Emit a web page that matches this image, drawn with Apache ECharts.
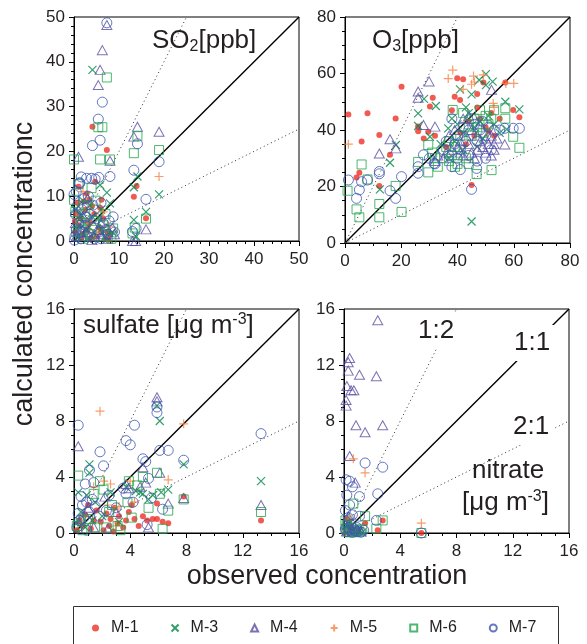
<!DOCTYPE html>
<html><head><meta charset="utf-8">
<script src="https://cdn.jsdelivr.net/npm/echarts@6/dist/echarts.min.js"></script>
<style>html,body{margin:0;padding:0;background:#fff}#c{width:587px;height:644px}</style>
</head><body><div id="c"></div>
<script>
// ---------- data ----------
const SERIES_NAMES = ['M-1','M-3','M-4','M-5','M-6','M-7'];
const PANEL_MAX = [50, 80, 16, 16];
const PANEL_INTERVAL = [10, 20, 4, 4];
const PANEL_MINOR = [5, 4, 4, 4];

// SO2 [ppb]
const SO2_M1 = [[4.1,25.5],[7.3,20.3],[13.9,12.3],[13.3,9.9],[16,5.1],[1,12.1],[4.7,13.2],[2.8,10.6],[3.4,9.2],[6.1,9.2],[0.5,6],[1.5,5],[2.5,7],[3.5,4],[4.5,6],[5.5,3],[6.5,5],[7.5,2],[0.3,2],[1,3.5],[2,1.5],[3,2.5],[5,1],[6,2],[7,0.5],[8,1.5],[0.8,8.5],[2.2,8.8],[4,7.8],[7.6,0.3],[1.7,0.8],[3.8,0.6],[5.8,7.4],[0.2,4.4]];
const SO2_M3 = [[4.1,38.2],[14.1,14.4],[13.3,12],[7.3,10.8],[18.9,10.4],[16,6.5],[13.3,4.7],[5.8,12.5],[8,8.4],[0.5,3],[1.5,6],[2.5,4],[3.5,8],[4.5,2],[5.5,5],[6.5,3],[1,1],[2,9],[3,0.5],[7,1],[0.2,7],[4,5.5],[6,7],[2.8,2.5],[8.5,2],[13.8,1],[1.2,4.8]];
const SO2_M4 = [[7.3,48.2],[6.3,42.6],[5.8,38.2],[5.4,34.8],[14.1,25.5],[13.3,23.3],[18.9,24.4],[8,17.9],[1,18.8],[16,2.6],[13,0],[13.7,0],[0.5,1],[1.5,3],[2.5,2],[3.5,5],[4.5,1],[5.5,2.5],[6.5,1.5],[7.5,0.5],[8.5,3],[1,7],[2,5.5],[3,9.5],[0.3,4],[4,0.2],[6,4],[9,1.5]];
const SO2_M5 = [[18.9,14.4],[1.5,1.5],[3,4],[5,2],[6.5,6.5],[2,11],[0.5,5],[7.8,3.3]];
const SO2_M6 = [[7.3,36.5],[5.4,25.4],[6.3,25.4],[14.1,23.4],[13.3,19.6],[18.9,20.3],[5.8,18.2],[8,18.2],[0,18.2],[0,9.2],[3.9,11.8],[13,1.7],[8.7,2.8],[1,12.7],[0.5,2],[1.5,4],[2.5,6],[3.5,1.5],[4.5,4.5],[5.5,1],[6.5,3.5],[7.5,1],[2,0.5],[3,8],[4.8,9],[0.3,6.5],[7,6],[8.3,0.5],[1.8,2.5],[13.5,3],[16,5]];
const SO2_M7 = [[7.3,48.7],[6.3,31],[5.4,27.2],[5.8,22.5],[4.1,21.3],[14.1,21.7],[18.9,17.7],[13.3,15.8],[8,14.4],[16,9.3],[1.2,13],[1.6,14.3],[2.8,14],[3.9,14],[4.7,13.8],[5.5,14.2],[0,10.4],[8.7,5.4],[13,2.1],[1.3,12.9],[0.2,1],[0.5,2.5],[1,4],[1.5,0.5],[2,2],[2.5,3.5],[3,1],[3.5,6],[4,3],[4.5,0.5],[5,5],[5.5,2],[6,0.5],[6.5,4],[7,2.5],[7.5,1.5],[0.3,6],[0.8,8],[1.8,7],[2.3,9.5],[0.5,11],[3.2,10],[6,8.5],[7.8,4.5],[9,2],[0.1,0.2],[1.2,1.8],[2.7,5.3],[4.2,8],[13.8,2.8]];

// O3 [ppb]
const O3_M1 = [[1.2,45.5],[8,45.9],[18,44.1],[20.1,55.3],[5.9,35.9],[4.1,23.2],[5.1,24.9],[12.2,38.2],[16,31.2],[12.2,20.2],[26,41.2],[26,39.6],[31.2,51.4],[30.2,48.3],[29.6,39.4],[39.9,58.3],[42,58],[39,51.8],[40.9,50.6],[47,52.7],[49.2,56.8],[57,56.8],[59.8,47.1],[62,44.5],[45,20.5],[38,47],[41,39],[44,43],[46,38],[48,44],[50,41],[52,46],[53,38],[43,35],[36,34],[51,39.5],[28,37],[32,38],[47,48],[55,44]];
const O3_M3 = [[12.4,19],[16,28.4],[18.1,34.7],[26,45.9],[26,41.4],[28.1,51],[32.3,48.5],[30.2,37.6],[40.9,54.4],[45,52.6],[47.7,57.7],[50.1,59.8],[52.5,57.1],[50.1,55.9],[57,50],[62,47.3],[45,7.6],[36.7,40.6],[57.5,40.2],[38,44],[40,42],[42,39],[44,46],[46,41],[48,43],[49,37],[51,45],[53,42],[39,36],[43,48],[37,30],[34,35],[42,33],[55,39],[47,34]];
const O3_M4 = [[26,53.6],[26,51.4],[29.9,57.2],[16,36.7],[12.2,31.7],[18.1,33.5],[27.9,41.8],[32,41.2],[56.8,34.9],[52.1,54.2],[38,33],[40,34],[42,31],[44,35],[45,32],[46,30],[47,33],[48,36],[49,34],[50,32],[51,35],[52,31],[53,33],[37,38],[39,40],[41,36],[43,38],[36,32],[45,40],[48,42],[52,38],[54,37],[35,30],[41,32],[47,38],[50,37],[42,44],[44,45],[53,35],[32,29],[33,31]];
const O3_M5 = [[1.2,35],[38.3,61.2],[36.7,58.2],[45.7,59.1],[49.2,59.5],[52.7,49.4],[57.2,56.5],[60,56.5],[42,54.4],[45,56.2],[46,57],[53,48]];
const O3_M6 = [[0.9,18.5],[4.1,11.9],[5.1,9.1],[5.9,27.8],[8,22.5],[12.2,13.8],[12.2,9.1],[18,20.2],[20.1,11],[26,28.7],[29.6,25],[29.6,34.7],[38.3,47.1],[46.8,24.4],[52.1,25.8],[57,47.7],[59.8,37.6],[62,33.7],[39.1,27],[31,32],[32,30],[37,29],[38,31],[40,28],[42,46],[44,42],[46,44],[48,47],[50,45],[52,44],[37,36],[39,34],[41,38],[43,30],[45,38],[47,41],[49,39],[51,42],[53,47],[33,27],[36,34],[44,28],[57,44]];
const O3_M7 = [[1.2,22.3],[4.1,15.8],[5.1,18.8],[5.9,21.7],[8,22.3],[12.2,25.3],[12.2,24.5],[16,18.5],[18,15.8],[20.1,23.5],[26,24.7],[27.9,31.2],[31.7,28.2],[45,19],[46.8,26.4],[56.8,40.6],[59.8,40.6],[62,40.6],[26,27],[30,30],[32,28],[35,33],[37,31],[38,44],[39,35],[40,30],[41,33],[42,41],[43,36],[44,40],[45,44],[46,42],[47,36],[48,40],[49,43],[50,38],[51,41],[52,33],[53,40],[38,27],[41,26],[44,31],[47,29],[50,30],[40,38],[36,36],[55,40]];

// sulfate [ug m-3]
const SUL_M1 = [[4.9,1.2],[5.2,0.9],[5.6,1],[5.9,1],[6.3,0.8],[6.7,0.7],[4.3,1],[3.7,0.9],[3.1,0.7],[2.6,1],[1.9,0.8],[2.1,0.2],[13.3,0.9],[5.9,2.1],[7.8,2.6],[3.9,1.5],[1.4,0.9],[0.4,0.9],[0.8,1.3],[1.2,0.3],[2.3,1.4],[2.9,1.8],[3.5,0.4],[4.6,0.5],[0.2,0.2],[1,2],[2.5,0.5],[3.2,1.2],[0.6,0.5],[1.6,1.6],[2.8,0.1],[4.1,2]];
const SUL_M3 = [[0.3,2.9],[1.1,4.9],[1.1,4.3],[5.9,9.1],[6.1,8],[7.8,4.9],[13.3,3.7],[6.7,3.1],[4.9,2.8],[4.4,3],[3.7,3.3],[5.3,2.4],[5.6,2.7],[6.2,2.9],[0.5,1.5],[0.8,0.4],[1.5,2.2],[2,1.2],[0.2,0.7],[2.6,2.9],[3.2,0.8],[1.3,0.9],[0.9,2.7],[4.7,2.9]];
const SUL_M4 = [[0.3,6.2],[5.9,9.7],[5.9,9.4],[4.9,4.7],[6.1,4.3],[6.7,2.1],[7.8,2.5],[13.3,2],[3.7,3.5],[4.7,3.3],[5.3,0.4],[1.4,0.4],[2.2,2.6],[3.9,3.2],[0.5,1],[1,1.8],[2.4,0.3],[5.1,3.6],[3,1.5]];
const SUL_M5 = [[1.85,8.7],[7.8,7.8],[6.7,3.8],[4,3.7],[2.6,3.5],[1.4,3.3],[3.2,1.9],[0.8,1.3],[2.1,3.7],[3,0.5],[4.3,2.2],[2.4,2]];
const SUL_M6 = [[0.3,4.1],[1.85,3.7],[2.1,3.1],[1.4,2.8],[2.7,2],[4.9,4],[5.9,4.3],[6.1,2.8],[5.3,1.8],[6.7,1.6],[7.8,2.4],[13.3,1.5],[6.3,0.3],[4.5,3.4],[3.3,0.2],[0.2,0.5],[0.6,0.2],[1,1],[1.5,0.4],[2.3,0.4],[3.8,2.2],[4.1,1.1],[3.1,0.5],[0.5,0.9],[2.5,1.5],[3.9,3.7]];
const SUL_M7 = [[0.3,7.7],[1.85,5.8],[2.1,4.8],[1.1,4.5],[3.7,6.6],[4,6.3],[4.3,7.7],[5.9,8.6],[5.9,9],[4.9,5.3],[5.1,5.1],[6.1,5.9],[6.7,5.9],[7.8,5.2],[13.3,7.1],[6.3,1.7],[5.2,0.6],[0.8,3.5],[0.6,2],[0.3,1.4],[0.9,2.2],[1.1,1.5],[1.3,2.4],[0.7,1.1],[0.5,2.6],[1.5,1.9],[0.2,0.4],[1.8,1.2],[2.3,1.6],[3,1.8],[3.7,2.8],[4.2,2.2],[5.3,3.9],[1.4,3.6],[2.5,2.7],[0.4,0.9],[0.9,0.2],[3.5,3.2],[5.5,2.5]];

// nitrate [ug m-3]
const NIT_M1 = [[1.5,0.7],[2.75,0.9],[2.4,0.2],[5.5,0],[0.3,0.1],[0.6,0.3],[0.2,1],[1,0.2],[0.1,0.05],[0.8,0.05],[0.4,0.5]];
const NIT_M3 = [[0.1,0.1],[0.3,0.2],[0.5,0.05],[0.7,0.3],[0.9,0.1],[1.1,0.15],[0.2,0.5],[0.4,0.8],[1.3,0.05],[0.6,0.1]];
const NIT_M4 = [[2.4,15.2],[0.4,12.5],[0.3,12.2],[0.3,11.6],[1.1,11.3],[2.3,11.2],[0.2,10.5],[0.5,10.2],[0.7,10.2],[0.15,9.5],[0.15,9.1],[0.85,7.7],[2.75,7.7],[1.5,7.2],[0.4,5.5],[0.8,3.6],[0.2,0.1],[0.4,0.3],[0.6,0.1],[0.9,0.2],[0.3,1.2],[0.1,0.6],[1.2,0.1]];
const NIT_M5 = [[0.66,5.3],[1.5,4.3],[5.5,0.7],[0.2,0.2],[0.5,1],[0.8,0.1]];
const NIT_M6 = [[0.66,2.1],[1.5,1.2],[2.75,0.9],[2.3,0.3],[5.5,0],[0.1,0.3],[0.3,0.1],[0.5,0.4],[0.7,0.05],[0.9,0.2],[1.1,0.1],[0.2,0.6],[0.4,0.05],[1.3,0.3],[0.1,0.9]];
const NIT_M7 = [[1.5,5],[2.75,4.7],[2.4,2.8],[1.1,2.6],[0.4,3.7],[0.2,2.7],[0.15,3.8],[0.6,3.3],[0.4,2],[0.1,1.6],[1.1,1.2],[2.3,0.9],[5.5,0],[0.2,0.1],[0.4,0.2],[0.6,0.05],[0.8,0.15],[1,0.1],[1.2,0.05],[0.3,0.4],[0.5,0.6],[0.1,0.3],[0.7,0.3],[0.9,0.4],[0.3,1.1],[0.6,1.3],[1.4,0.2]];

const PANEL_DATA = [
  [SO2_M1, SO2_M3, SO2_M4, SO2_M5, SO2_M6, SO2_M7],
  [O3_M1, O3_M3, O3_M4, O3_M5, O3_M6, O3_M7],
  [SUL_M1, SUL_M3, SUL_M4, SUL_M5, SUL_M6, SUL_M7],
  [NIT_M1, NIT_M3, NIT_M4, NIT_M5, NIT_M6, NIT_M7]
];
const RATIOS = [1, 2, 0.5]; // 1:1, 1:2, 2:1 reference lines

// ---------- styling ----------
const FONT = "'Liberation Sans', Arial, Helvetica, sans-serif";
const INK = '#231f20';
const GRIDS = [
  {left: 74, top: 17, width: 225, height: 224},
  {left: 345, top: 17, width: 225, height: 226},
  {left: 74, top: 309, width: 225, height: 224},
  {left: 344, top: 309, width: 225, height: 224}
];
const SYM = {
  'M-1': {symbol: 'circle', symbolSize: 6, itemStyle: {color: '#ee3124'}},
  'M-3': {symbol: 'path://M0,0L10,10M10,0L0,10', symbolSize: 8, itemStyle: {color: 'rgba(0,0,0,0)', borderColor: '#00874a', borderWidth: 1.2}},
  'M-4': {symbol: 'triangle', symbolSize: [10, 9], itemStyle: {color: 'rgba(0,0,0,0)', borderColor: '#5a4fa3', borderWidth: 1}},
  'M-5': {symbol: 'path://M5,0L5,10M0,5L10,5', symbolSize: 9, itemStyle: {color: 'rgba(0,0,0,0)', borderColor: '#f58345', borderWidth: 1.2}},
  'M-6': {symbol: 'rect', symbolSize: 9, itemStyle: {color: 'rgba(0,0,0,0)', borderColor: '#1fa64b', borderWidth: 1}},
  'M-7': {symbol: 'circle', symbolSize: 10, itemStyle: {color: 'rgba(0,0,0,0)', borderColor: '#3c56b0', borderWidth: 1}}
};

const grid = GRIDS.map(g => Object.assign({show: true, borderColor: '#000', borderWidth: 1, backgroundColor: 'transparent'}, g));
function axis(i, isX) {
  return {
    type: 'value', gridIndex: i, min: 0, max: PANEL_MAX[i], interval: PANEL_INTERVAL[i],
    axisLine: {show: true, onZero: false, lineStyle: {color: '#000', width: 1}},
    axisTick: {show: true, inside: false, length: 5, lineStyle: {color: '#000'}},
    minorTick: {show: true, splitNumber: PANEL_MINOR[i], length: 3, lineStyle: {color: '#000'}},
    splitLine: {show: false},
    axisLabel: {fontSize: 17, color: INK, fontFamily: FONT, margin: isX ? 10 : 9}
  };
}
const xAxis = [0,1,2,3].map(i => axis(i, true));
const yAxis = [0,1,2,3].map(i => axis(i, false));

const series = [];
PANEL_DATA.forEach((sets, p) => {
  const M = PANEL_MAX[p];
  RATIOS.forEach(r => {
    const end = r >= 1 ? [M / r, M] : [M, M * r];
    series.push({
      type: 'line', name: 'ref' + r, xAxisIndex: p, yAxisIndex: p, silent: true, z: 1,
      showSymbol: false, symbol: 'none', data: [[0, 0], end],
      lineStyle: r === 1 ? {color: '#000', width: 1.4} : {color: '#333', width: 1, type: [1, 3]}
    });
  });
  sets.forEach((pts, k) => {
    const name = SERIES_NAMES[k];
    series.push(Object.assign({
      type: 'scatter', name: name, xAxisIndex: p, yAxisIndex: p, data: pts, z: 2 + k
    }, JSON.parse(JSON.stringify(SYM[name]))));
  });
});

function txt(x, y, text, rich, extra) {
  return Object.assign({
    type: 'text', x: x, y: y, z: 100,
    style: Object.assign({text: text, fill: INK, font: '26px ' + FONT, align: 'left', verticalAlign: 'middle', rich: rich}, extra || {})
  });
}
const RICH = {
  a: {fontSize: 26, lineHeight: 26, fontFamily: FONT, color: INK},
  sub: {fontSize: 16, lineHeight: 16, padding: [12, 0, 0, 0], fontFamily: FONT, color: INK},
  sup: {fontSize: 16, lineHeight: 16, padding: [0, 0, 12, 0], fontFamily: FONT, color: INK}
};
const graphic = [
  txt(152, 41, '{a|SO}{sub|2}{a|[ppb]}', RICH),
  txt(372, 41, '{a|O}{sub|3}{a|[ppb]}', RICH),
  txt(83, 326, '{a|sulfate [μg m}{sup|-3}{a|]}', RICH),
  txt(414, 331, '1:2', null, {backgroundColor: '#fff', padding: [4, 4, 6, 4]}),
  txt(510, 343, '1:1', null, {backgroundColor: '#fff', padding: [4, 4, 6, 4]}),
  txt(509, 427, '2:1', null, {backgroundColor: '#fff', padding: [4, 6, 6, 4]}),
  txt(472, 471, 'nitrate', null),
  txt(462, 503, '{a|[μg m}{sup|-3}{a|]}', RICH),
  {type: 'text', x: 327, y: 577, z: 100, style: {text: 'observed concentration', font: '27px ' + FONT, fill: INK, align: 'center', verticalAlign: 'middle'}},
  {type: 'text', x: 25, y: 274, rotation: Math.PI / 2, z: 100, style: {text: 'calculated concentrationc', font: '27px ' + FONT, fill: INK, align: 'center', verticalAlign: 'middle'}},
  {type: 'rect', z: 0, shape: {x: 73.5, y: 606.5, width: 485, height: 60}, style: {fill: 'none', stroke: '#333', lineWidth: 1}}
];

const chart = echarts.init(document.getElementById('c'), null, {renderer: 'canvas'});
chart.setOption({
  animation: false,
  backgroundColor: '#fff',
  textStyle: {fontFamily: FONT},
  grid: grid, xAxis: xAxis, yAxis: yAxis, series: series, graphic: graphic,
  legend: {
    data: SERIES_NAMES, left: 87, top: 615, itemWidth: 7, itemHeight: 7, itemGap: 32,
    textStyle: {fontSize: 16, color: INK, fontFamily: FONT, padding: [0, 0, 0, 7]}, selectedMode: false
  }
});
</script></body></html>
